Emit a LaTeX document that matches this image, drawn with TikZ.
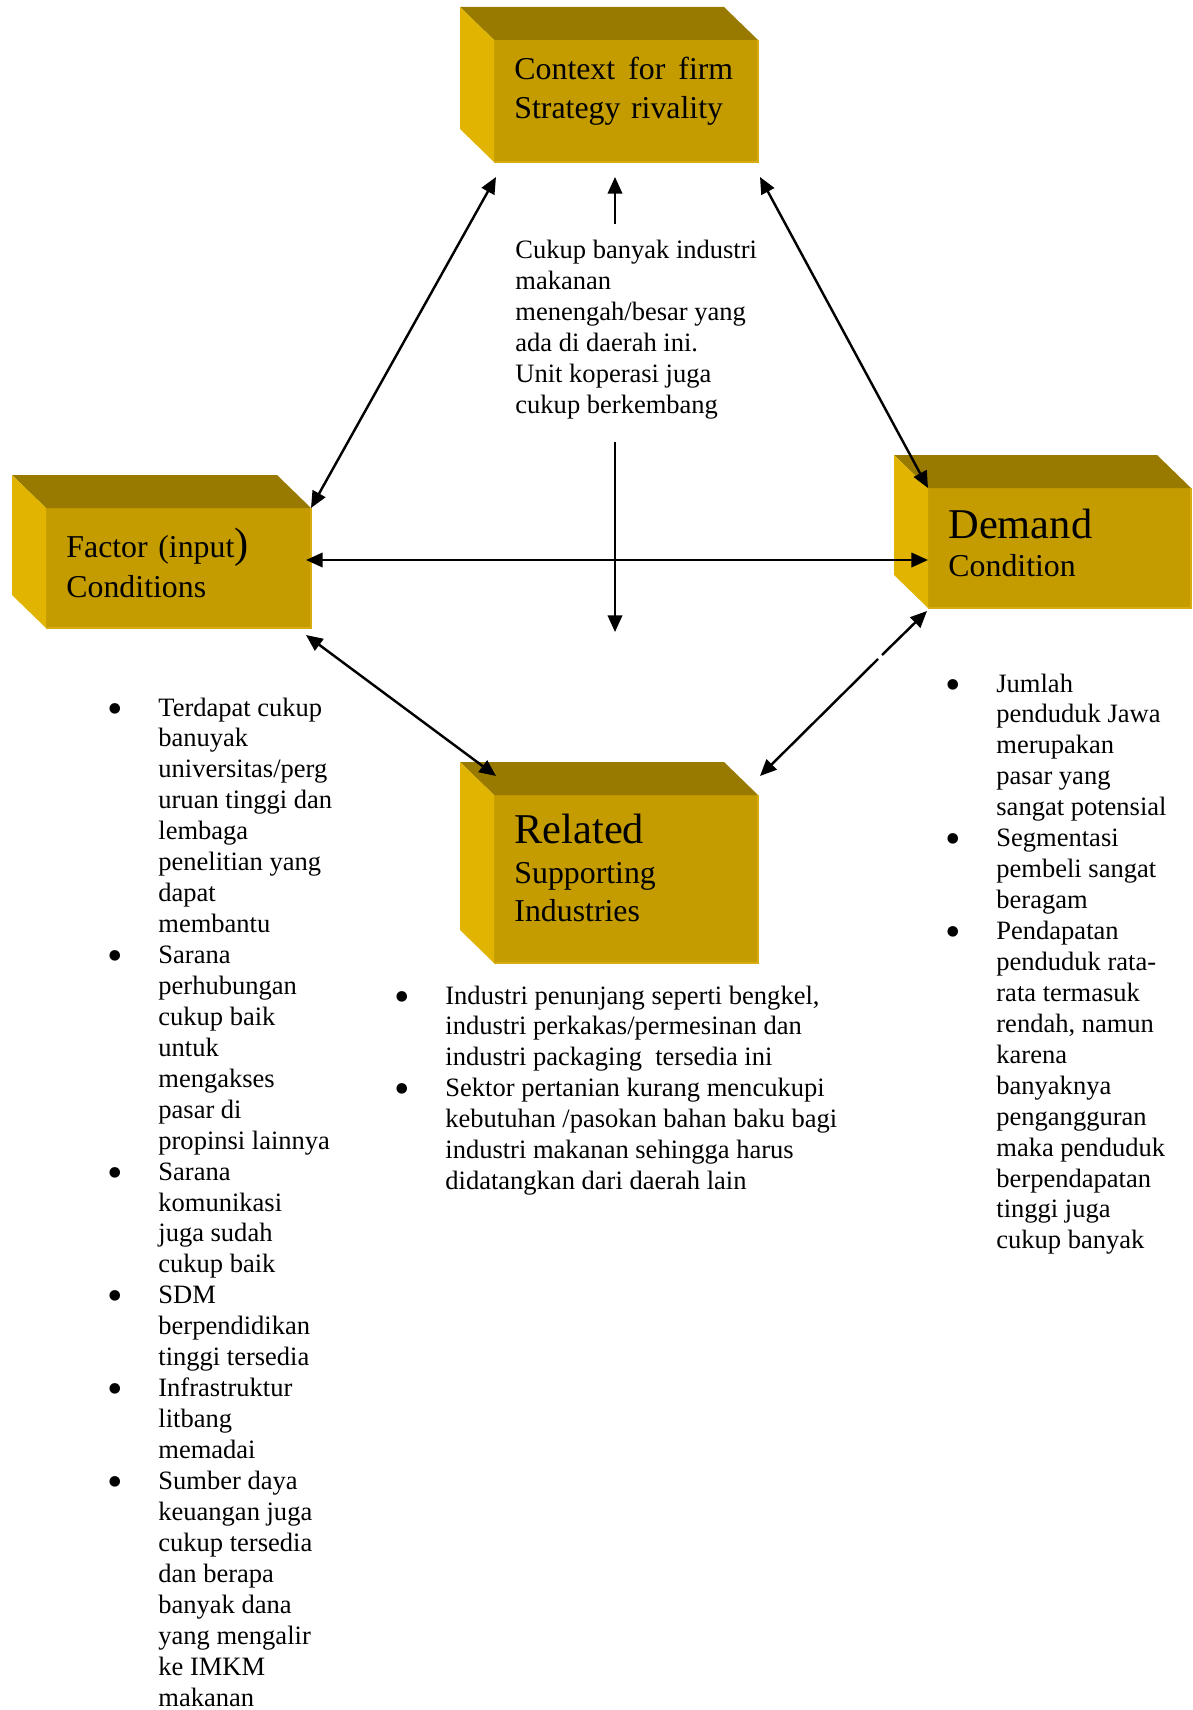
\documentclass[tikz,border=0pt]{standalone}
\usepackage{fontspec}
\setmainfont{Liberation Serif}
\usetikzlibrary{fit,arrows.meta}
\definecolor{frontgold}{RGB}{196,156,0}
\definecolor{topgold}{RGB}{153,122,0}
\definecolor{sidegold}{RGB}{224,180,0}
\definecolor{edgegold}{RGB}{214,172,16}
\newcommand{\bitem}{\par\noindent\hangindent=21.7pt\hangafter=1\makebox[21.7pt][l]{\hspace*{-1.4pt}\raisebox{-3.2pt}{\fontsize{20}{14}\selectfont\textbullet}}}
\newcommand{\listbox}[2]{\parbox[t]{#1}{#2}}

\begin{document}
\begin{tikzpicture}[x=0.4525pt,y=-0.4525pt,
    frontface/.style={fill=frontgold,inner sep=0pt,outer sep=0pt},
    boxlabel/.style={anchor=base west,inner sep=0pt,text width=150pt,align=left,font=\fontsize{14.4}{17.2}\selectfont},
    bullets/.style={anchor=base west,inner sep=0pt,font=\fontsize{12}{14}\selectfont},
    link/.style={{Triangle[length=7.5pt,width=6.5pt]}-{Triangle[length=7.5pt,width=6.5pt]},line width=1.1pt},
    onelink/.style={-{Triangle[length=7.5pt,width=6.5pt]},line width=1.1pt}]
  \useasboundingbox (0,0) rectangle (1193,1710);
  \node[frontface,fit={(494,40)(758,162)}] (ctx) {};
  \node[frontface,fit={(46,508)(311,628)}] (factor) {};
  \node[frontface,fit={(928,488)(1191,608)}] (demand) {};
  \node[frontface,fit={(494,795)(758,963)}] (related) {};
  \foreach \blk in {ctx,factor,demand,related}{
    \fill[topgold] (\blk.north west) -- ++(-34,-33) -- ([shift={(-34,-33)}]\blk.north east) -- (\blk.north east) -- cycle;
    \fill[sidegold] (\blk.north west) -- ++(-34,-33) -- ([shift={(-34,-33)}]\blk.south west) -- (\blk.south west) -- cycle;
    \draw[edgegold,line width=0.8pt] (\blk.north east) -- (\blk.south east) -- (\blk.south west);
  }
  \node[boxlabel] (ctxlabel) at (514,80) {Context\hspace{5.9pt}for\hspace{5.9pt}firm\\Strategy rivality};
  \node[boxlabel] (factorlabel) at (66,557) {Factor (input{\fontsize{19.2}{17.2}\selectfont)}\\[0.9pt]Conditions};
  \node[boxlabel] (demandlabel) at (948,538) {{\fontsize{19.2}{17.2}\selectfont Demand}\\[0.4pt]Condition};
  \node[boxlabel] (relatedlabel) at (514,843) {{\fontsize{19.2}{17.2}\selectfont Related}\\[0.9pt]Supporting\\Industries};

  \node[bullets] (ctxnote) at (515,259) {\listbox{140pt}{Cukup banyak industri\\makanan\\menengah/besar yang\\ada di daerah ini.\\Unit koperasi juga\\cukup berkembang}};
  \node[bullets] (factorlist) at (110,716) {\listbox{150pt}{%
    \bitem Terdapat cukup\\banuyak\\universitas/perg\\uruan tinggi dan\\lembaga\\penelitian yang\\dapat\\membantu
    \bitem Sarana\\perhubungan\\cukup baik\\untuk\\mengakses\\pasar di\\propinsi lainnya
    \bitem Sarana\\komunikasi\\juga sudah\\cukup baik
    \bitem SDM\\berpendidikan\\tinggi tersedia
    \bitem Infrastruktur\\litbang\\memadai
    \bitem Sumber daya\\keuangan juga\\cukup tersedia\\dan berapa\\banyak dana\\yang mengalir\\ke IMKM\\makanan}};
  \node[bullets] (demandlist) at (948,692) {\listbox{150pt}{%
    \bitem Jumlah\\penduduk Jawa\\merupakan\\pasar yang\\sangat potensial
    \bitem Segmentasi\\pembeli sangat\\beragam
    \bitem Pendapatan\\penduduk rata-\\rata termasuk\\rendah, namun\\karena\\banyaknya\\pengangguran\\maka penduduk\\berpendapatan\\tinggi juga\\cukup banyak}};
  \node[bullets] (relatedlist) at (397,1004) {\listbox{250pt}{%
    \bitem Industri penunjang seperti bengkel,\\industri perkakas/permesinan dan\\industri packaging\ \ tersedia ini
    \bitem Sektor pertanian kurang mencukupi\\kebutuhan /pasokan bahan baku bagi\\industri makanan sehingga harus\\didatangkan dari daerah lain}};

  \coordinate (noteup) at (615,224);
  \coordinate (notedown) at (615,442);
  \coordinate (middrop) at (615,632);
  \coordinate (gapa) at (882,655);
  \coordinate (gapb) at (878,659);
  \draw[link] (factor.north east) -- ([shift={(2,15)}]ctx.south west);
  \draw[link] ([shift={(2,15)}]ctx.south east) -- (demand.north west);
  \draw[link] ([shift={(-5,52)}]factor.north east) -- ([shift={(0,72)}]demand.north west);
  \draw[onelink] (noteup) -- ([shift={(-11,15)}]ctx.south);
  \draw[onelink] (notedown) -- (middrop);
  \draw[link] ([shift={(-5,7)}]factor.south east) -- ([shift={(2,-19)}]related.north west);
  \draw[onelink] (gapa) -- ([shift={(-1,3)}]demand.south west);
  \draw[onelink] (gapb) -- ([shift={(2,-19)}]related.north east);
\end{tikzpicture}
\end{document}
